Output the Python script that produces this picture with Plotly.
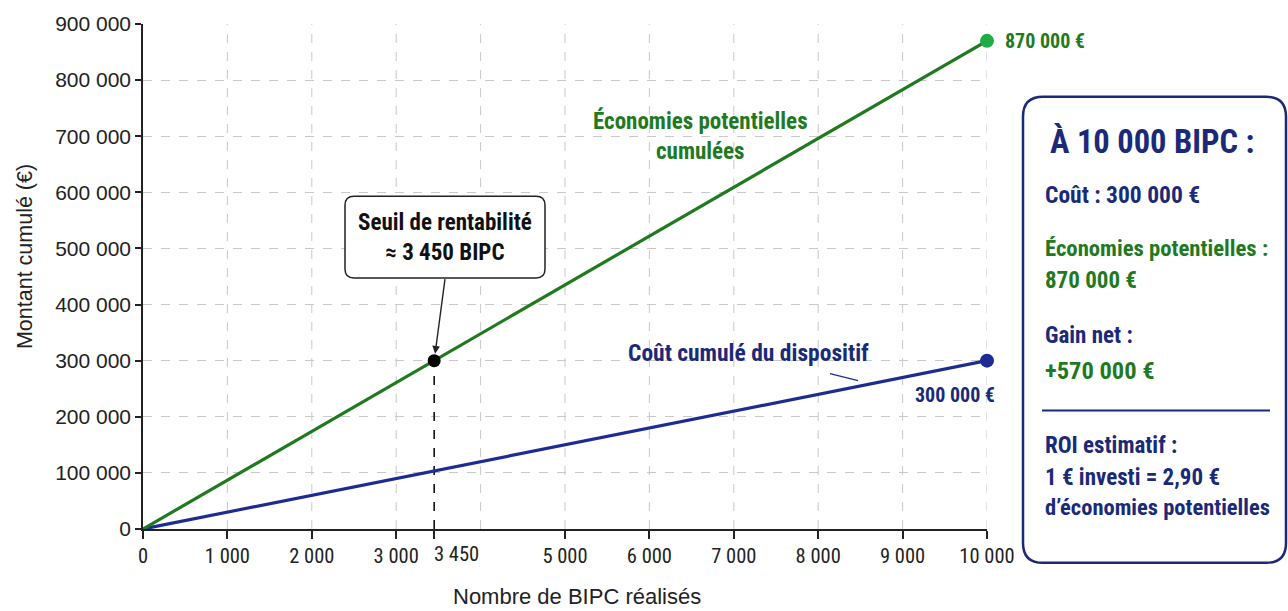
import plotly.graph_objects as go

# ---------------- data ----------------
X_BIPC = [0, 10000]
COUT = [0, 300000]
ECONOMIES = [0, 870000]
SEUIL_X = [3450]
SEUIL_Y = [300000]

X_TICKS = [0, 1000, 2000, 3000, 3450, 5000, 6000, 7000, 8000, 9000, 10000]
X_TICK_LABELS = ["0", "1 000", "2 000", "3 000", "", "5 000", "6 000", "7 000", "8 000", "9 000", "10 000"]
X_SEUIL_LABEL = "3 450"
X_GRID = [1000, 2000, 3000, 4000, 5000, 6000, 7000, 8000, 9000, 10000]
Y_TICKS = [0, 100000, 200000, 300000, 400000, 500000, 600000, 700000, 800000, 900000]
Y_TICK_LABELS = ["0", "100 000", "200 000", "300 000", "400 000", "500 000",
                 "600 000", "700 000", "800 000", "900 000"]

# ---------------- style ----------------
GREEN = "#1f7a1f"
GREEN_DOT = "#22ac45"
NAVY = "#1b2a78"
BLUE = "#1d2b93"
NARROW = "Liberation Sans Narrow, Arial Narrow, Roboto Condensed, DejaVu Sans Condensed, sans-serif"
ARIAL = "Liberation Sans, Arial, sans-serif"

W, H = 1288, 611
ML, MR, MT, MB = 143, 301, 22, 82
PW, PH = W - ML - MR, H - MT - MB


def px(xp):
    return (xp - ML) / PW


def py(yp):
    return (H - MB - yp) / PH


def rounded_rect(x0p, y0p, x1p, y1p, r):
    x0, x1 = px(x0p), px(x1p)
    yt, yb = py(y0p), py(y1p)
    rx, ry = r / PW, r / PH
    return (f"M {x0+rx},{yt} L {x1-rx},{yt} Q {x1},{yt} {x1},{yt-ry} "
            f"L {x1},{yb+ry} Q {x1},{yb} {x1-rx},{yb} "
            f"L {x0+rx},{yb} Q {x0},{yb} {x0},{yb+ry} "
            f"L {x0},{yt-ry} Q {x0},{yt} {x0+rx},{yt} Z")


fig = go.Figure()

# vertical dashed grid
for g in X_GRID:
    fig.add_shape(type="line", x0=g, x1=g, y0=0, y1=1, xref="x", yref="paper",
                  line=dict(color="#c9c9c9", width=1, dash="dash"), layer="below")

# break-even dashed vertical
fig.add_trace(go.Scatter(x=[SEUIL_X[0], SEUIL_X[0]], y=[0, SEUIL_Y[0]], mode="lines",
                         line=dict(color="#111111", width=1.6, dash="dash"),
                         hoverinfo="skip", showlegend=False))

fig.add_trace(go.Scatter(x=X_BIPC, y=COUT, mode="lines", line=dict(color=BLUE, width=3.2),
                         showlegend=False, cliponaxis=False))
fig.add_trace(go.Scatter(x=X_BIPC, y=ECONOMIES, mode="lines", line=dict(color=GREEN, width=3.2),
                         showlegend=False, cliponaxis=False))
fig.add_trace(go.Scatter(x=X_BIPC[-1:], y=COUT[-1:], mode="markers",
                         marker=dict(color=BLUE, size=14), showlegend=False, cliponaxis=False))
fig.add_trace(go.Scatter(x=X_BIPC[-1:], y=ECONOMIES[-1:], mode="markers",
                         marker=dict(color=GREEN_DOT, size=14), showlegend=False, cliponaxis=False))
fig.add_trace(go.Scatter(x=SEUIL_X, y=SEUIL_Y, mode="markers",
                         marker=dict(color="#000000", size=13), showlegend=False, cliponaxis=False))

shapes = []
# break-even box
shapes.append(dict(type="path", xref="paper", yref="paper", path=rounded_rect(345, 195, 545, 277, 9),
                   fillcolor="white", line=dict(color="#222222", width=1.5), layer="above"))
# side panel
shapes.append(dict(type="path", xref="paper", yref="paper", path=rounded_rect(1023, 95, 1286, 563, 20),
                   fillcolor="white", line=dict(color=NAVY, width=2.5)))
shapes.append(dict(type="line", xref="paper", yref="paper", x0=px(1042), x1=px(1270), y0=py(410), y1=py(410),
                   line=dict(color=NAVY, width=2)))
# leader line for cost label
shapes.append(dict(type="line", xref="paper", yref="paper", x0=px(830), x1=px(858), y0=py(373), y1=py(380),
                   line=dict(color=BLUE, width=1.2)))
for s in shapes:
    fig.add_shape(**s)


def ann(text, xp, yp, color, size, anchor="left", font=NARROW, bold=True, angle=0):
    fig.add_annotation(x=px(xp), y=py(yp), xref="paper", yref="paper", text=f"<b>{text}</b>" if bold else text,
                       showarrow=False, xanchor=anchor, yanchor="middle", textangle=angle,
                       font=dict(family=font, size=size, color=color))


# axis titles
ann("Montant cumulé (€)", 25, 256, "#222222", 21.5, anchor="center", font=ARIAL, bold=False, angle=-90)
ann("Nombre de BIPC réalisés", 577, 597, "#222222", 22, anchor="center", font=ARIAL, bold=False)

# in-chart labels
ann("Économies potentielles<br>cumulées", 700, 134, GREEN, 23, anchor="center")
ann("Coût cumulé du dispositif", 748, 352, NAVY, 23.5, anchor="center")
ann("Seuil de rentabilité<br>≈ 3 450 BIPC", 445, 236, "#111111", 23, anchor="center")

fig.add_annotation(x=X_BIPC[-1], y=ECONOMIES[-1], text="<b>870 000 €</b>", showarrow=False,
                   xanchor="left", yanchor="middle", xshift=16,
                   font=dict(family=NARROW, size=20, color=GREEN))
fig.add_annotation(x=X_BIPC[-1], y=COUT[-1], text="<b>300 000 €</b>", showarrow=False,
                   xanchor="right", yanchor="middle", xshift=10, yshift=-34,
                   font=dict(family=NARROW, size=20, color=NAVY))

# arrow to break-even point
fig.add_annotation(x=SEUIL_X[0], y=SEUIL_Y[0], ax=11, ay=-83, axref="pixel", ayref="pixel",
                   text="", showarrow=True, arrowhead=2, arrowsize=1.1, arrowwidth=1.4,
                   arrowcolor="#222222", standoff=7)

# 3 450 tick label
fig.add_annotation(x=SEUIL_X[0], y=0, yref="paper", text=X_SEUIL_LABEL, showarrow=False,
                   xanchor="center", yanchor="top", xshift=22, yshift=-11,
                   font=dict(family=NARROW, size=20.5, color="#222222"))

# side panel text
ann("À 10 000 BIPC :", 1048, 140, NAVY, 32.5)
ann("Coût : 300 000 €", 1043, 194, NAVY, 23.5)
ann("Économies potentielles :", 1043, 247, GREEN, 22.7)
ann("870 000 €", 1043, 280, GREEN, 23)
ann("Gain net :", 1043, 335, NAVY, 23)
ann("+570 000 €", 1043, 370, GREEN, 24.5)
ann("ROI estimatif :", 1043, 445, NAVY, 23)
ann("1 € investi = 2,90 €", 1043, 477, NAVY, 23)
ann("d’économies potentielles", 1043, 507, NAVY, 22.5)

fig.update_layout(
    width=W, height=H,
    margin=dict(l=ML, r=MR, t=MT, b=MB),
    paper_bgcolor="white", plot_bgcolor="white",
    showlegend=False,
    xaxis=dict(range=[0, 10000], tickvals=X_TICKS, ticktext=X_TICK_LABELS,
               showgrid=False, zeroline=False, showline=True, linecolor="#222222", linewidth=1.5,
               ticks="outside", ticklen=8, tickcolor="#222222", tickwidth=1.5,
               tickfont=dict(family=NARROW, size=20.5, color="#222222")),
    yaxis=dict(range=[0, 900000], tickvals=Y_TICKS, ticktext=Y_TICK_LABELS,
               showgrid=True, gridcolor="#c9c9c9", griddash="dash", gridwidth=1,
               zeroline=False, showline=True, linecolor="#222222", linewidth=1.5,
               ticks="outside", ticklen=6, tickcolor="#222222", tickwidth=1.5,
               tickfont=dict(family=ARIAL, size=21, color="#222222")),
)

fig.write_html("out.html", config={"displayModeBar": False},
               post_script="document.body.style.margin='0';")
